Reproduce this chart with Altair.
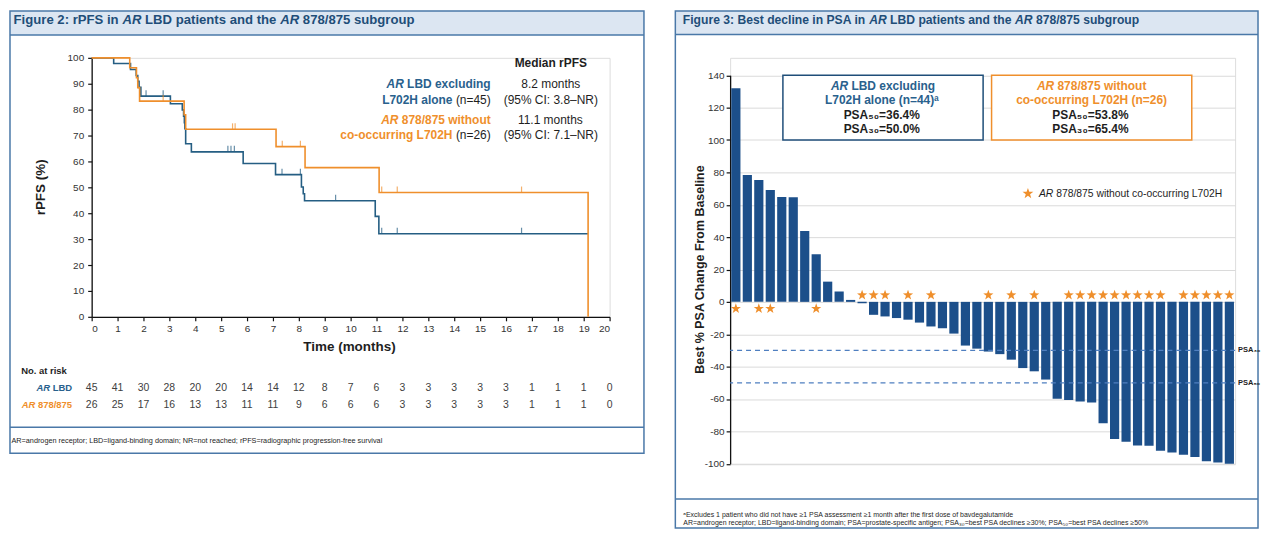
import altair as alt
import pandas as pd

FONT = "Liberation Sans"
BLUE_KM = "#255e83"
BLUE_TXT = "#29618d"
ORANGE = "#ef8f2c"
BAR_BLUE = "#1c4f8a"
TITLE_C = "#1f4e79"
FRAME_C = "#4a78a8"
BAR_FILL = "#dce6f2"
DARK = "#1e1e1e"
GREY_TXT = "#404040"

# ---------------- data ----------------
months = list(range(0, 21))
risk_lbd = [45, 41, 30, 28, 20, 20, 14, 14, 12, 8, 7, 6, 3, 3, 3, 3, 3, 1, 1, 1, 0]
risk_878 = [26, 25, 17, 16, 13, 13, 11, 11, 9, 6, 6, 6, 3, 3, 3, 3, 3, 1, 1, 1, 0]

lbd_t = [0, 0.85, 1.5, 1.72, 1.78, 1.83, 1.9, 3.04, 3.5, 3.55, 3.58, 3.6, 3.63, 3.85,
         5.85, 7.1, 8.1, 8.17, 8.22, 10.95, 11.09, 19.17]
lbd_s = [100, 97.8, 95.5, 93.2, 90.9, 88.6, 85.2, 82.3, 79.9, 77.5, 75.0, 72.6, 66.8, 63.7,
         59.2, 54.9, 50.1, 47.5, 44.8, 38.8, 32.1, 32.1]
lbd_cens_t = [2.1, 2.76, 5.26, 5.38, 5.51, 7.35, 8.06, 9.42, 11.2, 11.8, 16.6]
lbd_cens_s = [85.2, 85.2, 63.7, 63.7, 63.7, 54.9, 54.9, 44.8, 32.1, 32.1, 32.1]

sub_t = [0, 1.47, 1.73, 1.78, 1.85, 3.57, 3.63, 7.12, 8.24, 11.1, 19.17, 19.17]
sub_s = [100, 96.2, 92.3, 88.5, 83.3, 78.0, 72.4, 65.7, 57.6, 48.0, 48.0, 0]
sub_cens_t = [2.76, 5.44, 5.54, 7.36, 8.06, 11.2, 11.8, 16.6]
sub_cens_s = [83.3, 72.4, 72.4, 65.7, 65.7, 48.0, 48.0, 48.0]

psa_change = [132, 78.4, 75.3, 69.1, 64.8, 64.6, 43.8, 29.4, 12.5, 6.4,
              1.2, -0.8, -8, -9, -10, -11, -12.8, -15.2, -16.3, -19.6,
              -27, -28.9, -30.7, -32.3, -35.7, -40.9, -42.9, -48, -59.9, -60.7,
              -61.5, -62.1, -75, -84.8, -86.4, -88.7, -88.9, -92, -93, -94.4,
              -95.8, -98.5, -99.3, -100]
star_idx = [1, 3, 4, 8, 12, 13, 14, 16, 18, 23, 25, 27, 30, 31, 32, 33, 34, 35, 36,
            37, 38, 40, 41, 42, 43, 44]
thresholds = [-30, -50]
threshold_labels = ["PSA\u2083\u2080", "PSA\u2085\u2080"]

# ---------------- helpers ----------------
_REG_W = ([278, 278, 355, 556, 556, 889, 667, 191, 333, 333, 389, 584, 278, 333, 278, 278]
          + [556] * 10 + [278, 278, 584, 584, 584, 556, 1015]
          + [667, 667, 722, 722, 667, 611, 778, 722, 278, 500, 667, 556, 833, 722, 778, 667,
             778, 722, 667, 611, 722, 667, 944, 667, 667, 611]
          + [278, 278, 278, 469, 556, 333]
          + [556, 556, 500, 556, 556, 278, 556, 556, 222, 222, 500, 222, 833, 556, 556, 556,
             556, 333, 500, 278, 556, 500, 722, 500, 500, 500]
          + [334, 260, 334, 584])
_BOLD_W = ([278, 333, 474, 556, 556, 889, 722, 238, 333, 333, 389, 584, 278, 333, 278, 278]
           + [556] * 10 + [333, 333, 584, 584, 584, 611, 975]
           + [722, 722, 722, 722, 667, 611, 778, 722, 278, 556, 722, 611, 833, 722, 778, 667,
              778, 722, 667, 611, 722, 667, 944, 667, 667, 611]
           + [333, 278, 333, 584, 556, 333]
           + [556, 611, 556, 611, 556, 333, 611, 611, 278, 278, 556, 278, 889, 611, 611, 611,
              611, 389, 556, 333, 611, 556, 778, 556, 556, 500]
           + [389, 280, 389, 584])


def tw(s, size, bold):
    tab = _BOLD_W if bold else _REG_W
    tot = 0
    for ch in s:
        o = ord(ch)
        tot += tab[o - 32] if 32 <= o <= 126 else 556
    return tot * size / 1000.0


ONE = pd.DataFrame({"k": [0]})


def rich(segs, x, y, size, align="left"):
    """segs: list of (text, bold, italic, color)"""
    widths = [tw(t, size, b) for t, b, it, c in segs]
    total = sum(widths)
    if align == "center":
        cx = x - total / 2
    elif align == "right":
        cx = x - total
    else:
        cx = x
    out = []
    for (t, b, it, c), w in zip(segs, widths):
        lead = len(t) - len(t.lstrip(" "))
        body = t.strip(" ")
        if body:
            out.append(
                alt.Chart(ONE).mark_text(
                    text=body, align="left", baseline="middle", font=FONT, fontSize=size,
                    fontWeight="bold" if b else "normal",
                    fontStyle="italic" if it else "normal", color=c,
                ).encode(x=alt.value(cx + tw(" " * lead, size, b)), y=alt.value(y))
            )
        cx += w
    return out


def frame(x1, x2, y1, y2, stroke=None, sw=1.5, fill=None):
    if fill is None:
        m = alt.Chart(ONE).mark_rect(fill="white", fillOpacity=0, stroke=stroke, strokeWidth=sw)
    elif stroke:
        m = alt.Chart(ONE).mark_rect(fill=fill, stroke=stroke, strokeWidth=sw)
    else:
        m = alt.Chart(ONE).mark_rect(fill=fill, strokeWidth=0)
    return m.encode(x=alt.value(x1), x2=alt.value(x2), y=alt.value(y1), y2=alt.value(y2))


def hline(x1, x2, y, color, sw=1.5):
    return alt.Chart(ONE).mark_rule(color=color, strokeWidth=sw).encode(
        x=alt.value(x1), x2=alt.value(x2), y=alt.value(y))


def vtext(text, x, y, size):
    return alt.Chart(ONE).mark_text(
        text=text, angle=270, align="center", baseline="middle", font=FONT,
        fontSize=size, fontWeight="bold", color=DARK).encode(x=alt.value(x), y=alt.value(y))


STAR = ("M0,-1L0.235,-0.324L0.951,-0.309L0.38,0.124L0.588,0.809L0,0.4L-0.588,0.809"
        "L-0.38,0.124L-0.951,-0.309L-0.235,-0.324Z")

# ---------------- left panel: KM ----------------
km = pd.DataFrame(
    [{"g": "lbd", "t": t, "s": s, "ord": i} for i, (t, s) in enumerate(zip(lbd_t, lbd_s))]
    + [{"g": "sub", "t": t, "s": s, "ord": i} for i, (t, s) in enumerate(zip(sub_t, sub_s))])
cens = pd.DataFrame(
    [{"g": "lbd", "t": t, "s": s} for t, s in zip(lbd_cens_t, lbd_cens_s)]
    + [{"g": "sub", "t": t, "s": s} for t, s in zip(sub_cens_t, sub_cens_s)])
risk = pd.DataFrame({"t": months * 2, "n": risk_lbd + risk_878,
                     "g": ["lbd"] * 21 + ["sub"] * 21})

AX = dict(labelFont=FONT, labelFontSize=10, labelColor="#333333", tickColor="#111111",
          domainColor="#111111", domainWidth=1.3, tickWidth=1.2, tickSize=4, grid=False,
          title=None)
X_KM = alt.X("t:Q", scale=alt.Scale(domain=[0, 20], nice=False),
             axis=alt.Axis(values=months, labelPadding=3, format="d", **AX))
Y_KM = alt.Y("s:Q", scale=alt.Scale(domain=[0, 100], nice=False),
             axis=alt.Axis(values=list(range(0, 101, 10)), labelPadding=4, format="d", **AX))

L = []
L.append(frame(-82, 554.5, -47, -23, fill=BAR_FILL))
L.append(hline(-82, 554.5, -23, FRAME_C))
L.append(frame(-82, 554.5, -47, 397, stroke=FRAME_C))
L.append(hline(-82, 554.5, 371, FRAME_C))
L += rich([("Figure 2: rPFS in ", True, False, TITLE_C), ("AR", True, True, TITLE_C),
           (" LBD patients and the ", True, False, TITLE_C), ("AR", True, True, TITLE_C),
           (" 878/875 subgroup", True, False, TITLE_C)], -78.4, -37.5, 13.2)

for g, col in [("lbd", BLUE_KM), ("sub", ORANGE)]:
    L.append(alt.Chart(km).transform_filter(f"datum.g == '{g}'").mark_line(
        interpolate="step-after", color=col, strokeWidth=1.6).encode(
        x=X_KM, y=Y_KM, order="ord:Q"))
    L.append(alt.Chart(cens).transform_filter(f"datum.g == '{g}'").mark_tick(
        orient="vertical", size=6, thickness=1.2, yOffset=-3, color=col).encode(
        x=X_KM, y=Y_KM))

for g, yy in [("lbd", 331.3), ("sub", 349)]:
    L.append(alt.Chart(risk).transform_filter(f"datum.g == '{g}'").mark_text(
        font=FONT, fontSize=10.5, color=GREY_TXT, baseline="middle").encode(
        x=X_KM, y=alt.value(yy), text="n:Q"))

L.append(vtext("rPFS (%)", -51, 130, 13.5))
L += rich([("Time (months)", True, False, DARK)], 259, 290, 13.5, "center")
L += rich([("No. at risk", True, False, DARK)], -70.8, 314, 9.5)
L += rich([("AR", True, True, BLUE_TXT), (" LBD", True, False, BLUE_TXT)], -19.6, 331.3, 9.5, "right")
L += rich([("AR", True, True, ORANGE), (" 878/875", True, False, ORANGE)], -19.6, 349, 9.5, "right")

L += rich([("Median rPFS", True, False, DARK)], 461, 4.7, 12, "center")
L += rich([("AR", True, True, BLUE_TXT), (" LBD excluding", True, False, BLUE_TXT)], 400.7, 26.7, 12, "right")
L += rich([("L702H alone", True, False, BLUE_TXT), (" (n=45)", False, False, DARK)], 400.7, 42.3, 12, "right")
L += rich([("AR", True, True, ORANGE), (" 878/875 without", True, False, ORANGE)], 400.7, 62.3, 12, "right")
L += rich([("co-occurring L702H", True, False, ORANGE), (" (n=26)", False, False, DARK)], 400.7, 77.3, 12, "right")
L += rich([("8.2 months", False, False, DARK)], 461, 26.7, 12, "center")
L += rich([("(95% CI: 3.8\u2013NR)", False, False, DARK)], 461, 42.3, 12, "center")
L += rich([("11.1 months", False, False, DARK)], 461, 62.3, 12, "center")
L += rich([("(95% CI: 7.1\u2013NR)", False, False, DARK)], 461, 77.3, 12, "center")

L += rich([("AR=androgen receptor; LBD=ligand-binding domain; NR=not reached; "
            "rPFS=radiographic progression-free survival", False, False, DARK)], -80.5, 384.5, 7.3)

left = alt.layer(*L).properties(width=520, height=260)

# ---------------- right panel: waterfall ----------------
# plot origin shares the left panel's origin (page y 56); the y scale range starts lower
DY = 17.5
PH = 390.0
wf = pd.DataFrame({"idx": list(range(1, len(psa_change) + 1)), "val": psa_change})
wf["star"] = wf["idx"].isin(star_idx)
thr = pd.DataFrame({"val": thresholds, "lab": threshold_labels})

X_WF = alt.X("idx:O", axis=None, scale=alt.Scale(paddingInner=0.2, paddingOuter=0.1))
Y_WF = alt.Y("val:Q", scale=alt.Scale(domain=[-100, 140], nice=False, range=[PH + DY, DY]),
             axis=alt.Axis(values=list(range(-100, 141, 20)), labelExpr="'' + datum.value",
                           labelPadding=2, **dict(AX, grid=True), gridColor="#dadada",
                           gridWidth=1))

R = []
R.append(frame(-55, 530, -47, -23.5, fill=BAR_FILL))
R.append(hline(-55, 530, -23.5, FRAME_C))
R.append(frame(-55, 530, -47, 472, stroke=FRAME_C))
R.append(hline(-55, 530, 425.5 + DY, FRAME_C))
R += rich([("Figure 3: Best decline in PSA in ", True, False, TITLE_C), ("AR", True, True, TITLE_C),
           (" LBD patients and the ", True, False, TITLE_C), ("AR", True, True, TITLE_C),
           (" 878/875 subgroup", True, False, TITLE_C)], -47.5, -37.5, 12.2)

R.append(alt.Chart(wf).mark_bar(color=BAR_BLUE).encode(x=X_WF, y=Y_WF, y2=alt.datum(0)))
R.append(alt.Chart(thr).mark_rule(strokeDash=[5, 4], color="#4f7fc0", strokeWidth=1.3).encode(y=Y_WF))
R.append(alt.Chart(thr).mark_text(align="left", baseline="middle", font=FONT, fontSize=7.5,
                                  fontWeight="bold", color=DARK).encode(
    y=Y_WF, x=alt.value(510), text="lab:N"))
R.append(alt.Chart(wf).transform_filter("datum.star").transform_calculate(
    val="datum.val < 0 ? 4.2 : -4.2").mark_point(
    shape=STAR, filled=True, size=115, color=ORANGE, opacity=1, strokeWidth=0).encode(
    x=X_WF, y=Y_WF))

R.append(frame(53, 254, DY, DY + 65, stroke=TITLE_C, fill="white"))
R.append(frame(262.5, 463.5, DY, DY + 65, stroke=ORANGE, fill="white"))
R += rich([("AR", True, True, BLUE_TXT), (" LBD excluding", True, False, BLUE_TXT)], 153.5, DY + 10.5, 12, "center")
R += rich([("L702H alone (n=44)\u1d43", True, False, BLUE_TXT)], 153.5, DY + 25, 12, "center")
R += rich([("PSA\u2085\u2080=36.4%", True, False, DARK)], 153.5, DY + 39.5, 12, "center")
R += rich([("PSA\u2083\u2080=50.0%", True, False, DARK)], 153.5, DY + 54, 12, "center")
R += rich([("AR", True, True, ORANGE), (" 878/875 without", True, False, ORANGE)], 363, DY + 10.5, 12, "center")
R += rich([("co-occurring L702H (n=26)", True, False, ORANGE)], 363, DY + 25, 12, "center")
R += rich([("PSA\u2085\u2080=53.8%", True, False, DARK)], 363, DY + 39.5, 12, "center")
R += rich([("PSA\u2083\u2080=65.4%", True, False, DARK)], 363, DY + 54, 12, "center")

R.append(alt.Chart(ONE).mark_point(shape=STAR, filled=True, size=130, color=ORANGE,
                                   opacity=1, strokeWidth=0).encode(
    x=alt.value(299), y=alt.value(DY + 118.8)))
R += rich([("AR", False, True, DARK), (" 878/875 without co-occurring L702H", False, False, DARK)],
          310, DY + 118.8, 10.4)
R.append(vtext("Best % PSA Change From Baseline", -30.7, DY + 195, 12.5))

R += rich([("\u1d43Excludes 1 patient who did not have \u22651 PSA assessment \u22651 month after "
            "the first dose of bavdegalutamide", False, False, DARK)], -47, DY + 441, 7)
R += rich([("AR=androgen receptor; LBD=ligand-binding domain; PSA=prostate-specific antigen; "
            "PSA\u2083\u2080=best PSA declines \u226530%; PSA\u2085\u2080=best PSA declines \u226550%",
            False, False, DARK)], -47, DY + 449.5, 7)

right = alt.layer(*R).properties(width=507, height=PH + DY)

chart = (alt.hconcat(left, right, spacing=28)
         .properties(padding=0, background="white")
         .configure_view(stroke=None)
         .configure(font=FONT))

chart.save("out.html", embed_options={"renderer": "svg", "actions": False})
